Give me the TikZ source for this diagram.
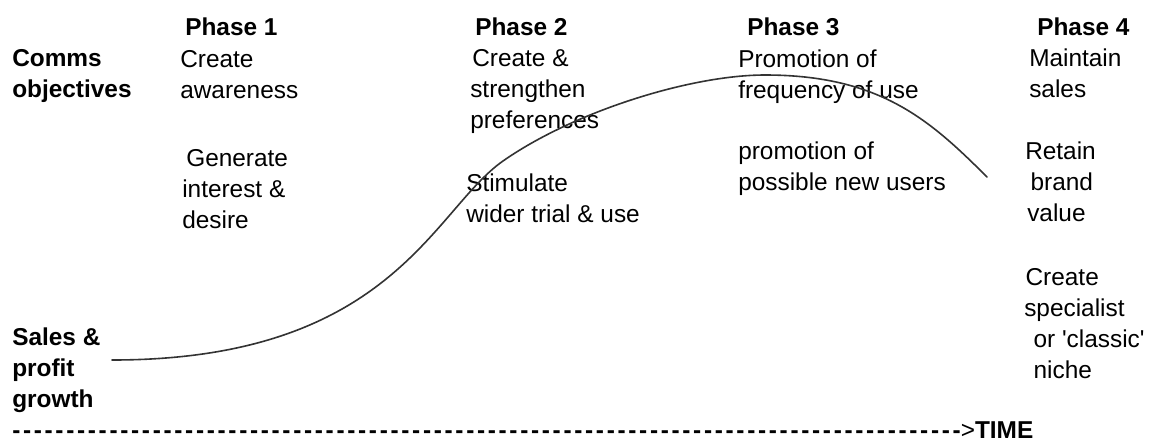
\documentclass[tikz,border=0pt]{standalone}
\usepackage{fontspec}
% plain families: no TeX ligatures, so ' and -- stay as typed
\newfontfamily\txtfont{Liberation Sans}
\newfontfamily\dashfont{Liberation Sans}[LetterSpace=11]
\begin{document}
\begin{tikzpicture}[x=0.75pt,y=-0.75pt,
  % multi-line nodes: the base anchor sits on the last line
  txt/.style={anchor=base west,inner sep=0pt,align=left,
    font=\txtfont\fontsize{18.3}{23.1}\selectfont},
  head/.style={txt,font=\txtfont\bfseries\fontsize{18.3}{23.1}\selectfont},
  curve/.style={draw=black!80,line width=1.2pt,line cap=round}]
\useasboundingbox[fill=white] (0,0) rectangle (1154,444);

% phase headings
\node[head] (ph1) at (185,35) {Phase 1};
\node[head] (ph2) at (475,35) {Phase 2};
\node[head] (ph3) at (747,35) {Phase 3};
\node[head] (ph4) at (1037,35) {Phase 4};

% row labels
\node[head] (comms) at (12,97) {Comms\\objectives};
\node[head] (sales) at (12,407) {Sales \&\\profit\\growth};

% phase 1
\node[txt] (p1a) at (180,98) {Create\\awareness};
\node[txt] (p1b) at (182,228) {\hspace{3pt}Generate\\interest \&\\desire};

% phase 2
\node[txt] (p2a) at (470,128) {\hspace{1.5pt}Create \&\\strengthen\\preferences};
\node[txt] (p2b) at (466,222) {Stimulate\\wider trial \& use};

% phase 3
\node[txt] (p3a) at (738,98) {Promotion of\\frequency of use};
\node[txt] (p3b) at (738,190) {promotion of\\possible new users};

% phase 4
\node[txt] (p4a) at (1029,97) {Maintain\\sales};
\node[txt] (p4b) at (1025,221) {Retain\\\hspace{4pt}brand\\\hspace{1.5pt}value};
\node[txt] (p4c) at (1024,378) {\hspace{1pt}Create\\specialist\\\hspace{7pt}or 'classic'\\\hspace{7pt}niche};

% sales and profit growth curve: slow start, steep rise, peak, decline
\draw[curve] (112,360)
  .. controls (392,360) and (433,210) .. (503,161)
  .. controls (573,112) and (690,75) .. (765,75)
  .. controls (880,75) and (930,120) .. (987,177);

% time axis
\node[txt] (time) at (12,438) {{\dashfont\bfseries ----------------------------------------------------------------------------------------}{\txtfont >}{\txtfont\bfseries TIME}};
\end{tikzpicture}
\end{document}
